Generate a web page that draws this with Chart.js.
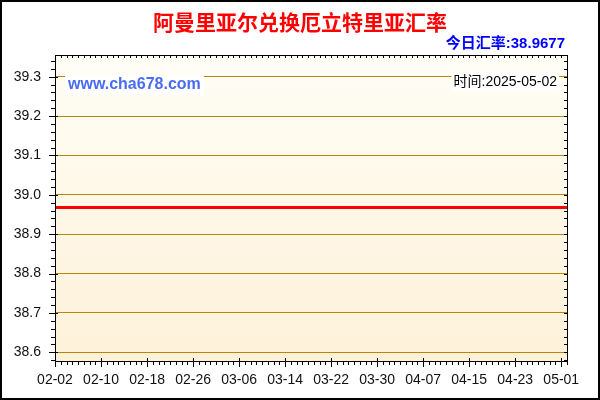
<!DOCTYPE html>
<html><head><meta charset="utf-8">
<script src="https://cdn.jsdelivr.net/npm/chart.js@4.4.1/dist/chart.umd.min.js"></script>
<style>html,body{margin:0;padding:0;background:#fff}#wrap{width:600px;height:400px;position:relative}canvas{display:block}</style>
</head><body><div id="wrap"><canvas id="c" width="600" height="400"></canvas></div>
<script>
const dates = [
"02-02","02-03","02-04","02-05","02-06","02-07","02-08","02-09","02-10","02-11","02-12","02-13","02-14","02-15","02-16","02-17","02-18","02-19","02-20","02-21","02-22","02-23","02-24","02-25","02-26","02-27","02-28",
"03-01","03-02","03-03","03-04","03-05","03-06","03-07","03-08","03-09","03-10","03-11","03-12","03-13","03-14","03-15","03-16","03-17","03-18","03-19","03-20","03-21","03-22","03-23","03-24","03-25","03-26","03-27","03-28","03-29","03-30","03-31",
"04-01","04-02","04-03","04-04","04-05","04-06","04-07","04-08","04-09","04-10","04-11","04-12","04-13","04-14","04-15","04-16","04-17","04-18","04-19","04-20","04-21","04-22","04-23","04-24","04-25","04-26","04-27","04-28","04-29","04-30",
"05-01","05-02"];
const rates = [
38.9677,38.9677,38.9677,38.9677,38.9677,38.9677,38.9677,38.9677,38.9677,38.9677,
38.9677,38.9677,38.9677,38.9677,38.9677,38.9677,38.9677,38.9677,38.9677,38.9677,
38.9677,38.9677,38.9677,38.9677,38.9677,38.9677,38.9677,38.9677,38.9677,38.9677,
38.9677,38.9677,38.9677,38.9677,38.9677,38.9677,38.9677,38.9677,38.9677,38.9677,
38.9677,38.9677,38.9677,38.9677,38.9677,38.9677,38.9677,38.9677,38.9677,38.9677,
38.9677,38.9677,38.9677,38.9677,38.9677,38.9677,38.9677,38.9677,38.9677,38.9677,
38.9677,38.9677,38.9677,38.9677,38.9677,38.9677,38.9677,38.9677,38.9677,38.9677,
38.9677,38.9677,38.9677,38.9677,38.9677,38.9677,38.9677,38.9677,38.9677,38.9677,
38.9677,38.9677,38.9677,38.9677,38.9677,38.9677,38.9677,38.9677,38.9677,38.9677];
const xTickLabels = ["02-02","02-10","02-18","02-26","03-06","03-14","03-22","03-30","04-07","04-15","04-23","05-01"];
const yTickValues = [38.6,38.7,38.8,38.9,39.0,39.1,39.2,39.3];
const titleText = "阿曼里亚尔兑换厄立特里亚汇率";
const rateText = "今日汇率:38.9677";
const siteText = "www.cha678.com";
const timeText = "时间:2025-05-02";

const LATIN = "Arial, 'Liberation Sans', 'Noto Sans CJK SC', sans-serif";

const decor = {
  id: 'decor',
  beforeDraw(chart) {
    const {ctx, chartArea: a} = chart;
    ctx.save();
    ctx.fillStyle = '#ffffff';
    ctx.fillRect(0, 0, chart.width, chart.height);
    const g = ctx.createLinearGradient(0, a.top, 0, a.bottom);
    g.addColorStop(0, '#fffef6');
    g.addColorStop(1, '#fdf1d8');
    ctx.fillStyle = g;
    ctx.fillRect(a.left, a.top, a.right - a.left, a.bottom - a.top);
    ctx.restore();
  },
  afterDraw(chart) {
    const {ctx, chartArea: a} = chart;
    const xs = chart.scales.x, ys = chart.scales.y;
    ctx.save();
    ctx.strokeStyle = '#000';
    ctx.lineWidth = 1;
    ctx.beginPath();
    // x ticks (daily), bottom and top
    for (let i = 0; i < dates.length; i++) {
      const x = Math.round(xs.getPixelForValue(i)) + 0.5;
      const major = xTickLabels.includes(dates[i]);
      ctx.moveTo(x, a.bottom - (major ? 3 : 0));
      ctx.lineTo(x, a.bottom + (major ? 6 : 4));
      ctx.moveTo(x, a.top);
      ctx.lineTo(x, a.top + 3);
    }
    // y ticks every 0.02
    for (let k = 0; k <= 40; k++) {
      const v = 38.58 + 0.02 * k;
      if (v > ys.max) break;
      const y = Math.round(ys.getPixelForValue(v)) + 0.5;
      const major = Math.abs(v * 10 - Math.round(v * 10)) < 1e-6;
      ctx.moveTo(a.left - (major ? 6 : 4), y);
      ctx.lineTo(a.left + (major ? 3 : 0), y);
      ctx.moveTo(a.right - 3, y);
      ctx.lineTo(a.right, y);
    }
    ctx.stroke();
    ctx.strokeRect(Math.round(a.left) + 0.5, Math.round(a.top) + 0.5, Math.round(a.right - a.left), Math.round(a.bottom - a.top));
    // outer frame
    ctx.lineWidth = 2;
    ctx.strokeRect(1, 1, chart.width - 2, chart.height - 2);

    // title
    ctx.textAlign = 'center';
    ctx.textBaseline = 'middle';
    ctx.fillStyle = '#ff0000';
    ctx.font = "bold 21px 'Noto Sans CJK SC', sans-serif";
    ctx.fillText(titleText, 300, 22);
    // today rate
    ctx.textAlign = 'right';
    ctx.fillStyle = '#0000ff';
    ctx.font = "bold 15px " + LATIN;
    ctx.fillText(rateText, 565, 44);
    // site watermark
    ctx.font = "bold 16px " + LATIN;
    const sw = ctx.measureText(siteText).width;
    ctx.fillStyle = '#ffffff';
    ctx.fillRect(65, 75, sw + 6, 20);
    ctx.textAlign = 'left';
    ctx.fillStyle = '#4a6cf0';
    ctx.fillText(siteText, 68, 85);
    // time
    ctx.font = "14px " + LATIN;
    const tw = ctx.measureText(timeText).width;
    ctx.fillStyle = '#ffffff';
    ctx.fillRect(557 - tw - 2, 73, tw + 4, 18);
    ctx.textAlign = 'right';
    ctx.fillStyle = '#000000';
    ctx.fillText(timeText, 557, 82);
    ctx.restore();
  }
};

new Chart(document.getElementById('c'), {
  type: 'line',
  data: {
    labels: dates,
    datasets: [{
      data: rates,
      borderColor: '#ff0000',
      borderWidth: 3,
      pointRadius: 0,
      fill: false,
      tension: 0
    }]
  },
  options: {
    responsive: false,
    animation: false,
    devicePixelRatio: 1,
    layout: {padding: {top: 55, right: 33, left: 0, bottom: 0}},
    plugins: {legend: {display: false}, tooltip: {enabled: false}, title: {display: false}},
    scales: {
      x: {
        type: 'category',
        offset: false,
        grid: {display: false, drawTicks: false},
        border: {display: false},
        afterBuildTicks: s => { s.ticks = s.ticks.filter(t => xTickLabels.includes(dates[t.value])); },
        afterFit: s => { s.height = 39; },
        ticks: {autoSkip: false, maxRotation: 0, minRotation: 0, padding: 11, color: '#111', font: {family: LATIN, size: 14}}
      },
      y: {
        min: 38.578,
        max: 39.355,
        grid: {color: '#b8860b', lineWidth: 1, drawTicks: false},
        border: {display: false},
        afterBuildTicks: s => { s.ticks = yTickValues.map(v => ({value: v})); },
        afterFit: s => { s.width = 55; },
        ticks: {padding: 14, color: '#111', font: {family: LATIN, size: 14}, callback: v => Number(v).toFixed(1)}
      }
    }
  },
  plugins: [decor]
});
</script>
</body></html>
